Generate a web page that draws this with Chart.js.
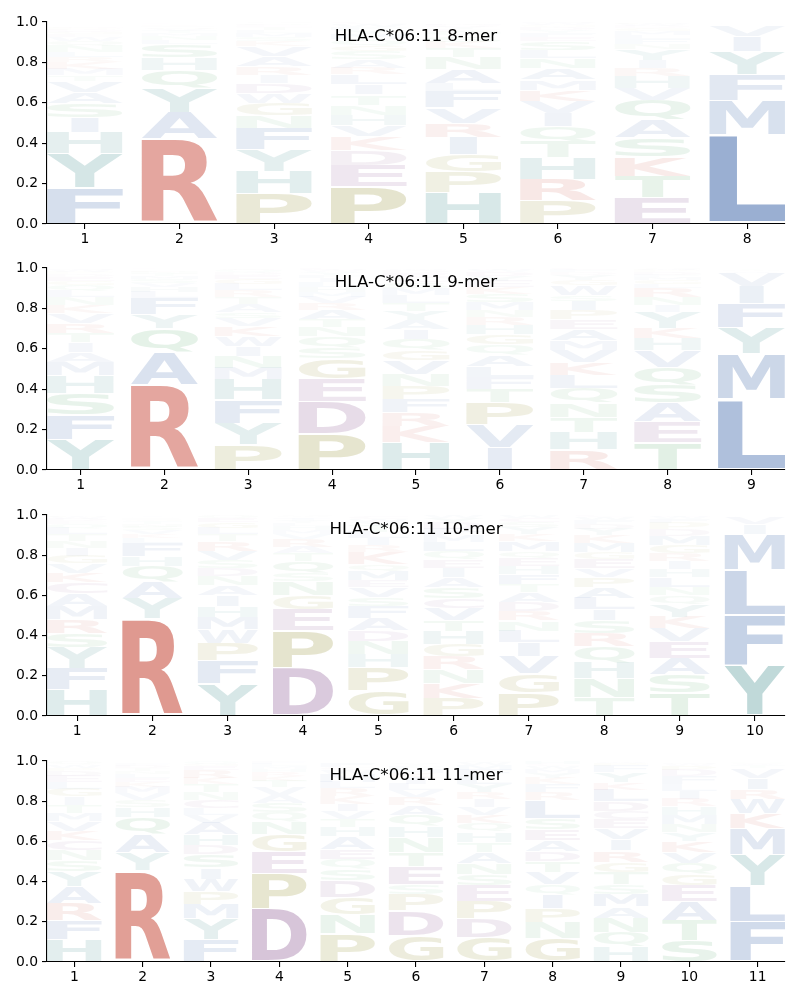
<!DOCTYPE html>
<html>
<head>
<meta charset="utf-8">
<title>HLA-C*06:11 motifs</title>
<script src="https://cdn.jsdelivr.net/npm/chart.js@4"></script>
<style>
  html, body { margin: 0; padding: 0; background: #fff; }
  .panel { position: absolute; left: 0; width: 800px; }
</style>
</head>
<body>
<div class="panel" style="top:0;height:247px"><canvas id="logo8"></canvas></div>
<div class="panel" style="top:246px;height:247px"><canvas id="logo9"></canvas></div>
<div class="panel" style="top:493px;height:246px"><canvas id="logo10"></canvas></div>
<div class="panel" style="top:739px;height:246px"><canvas id="logo11"></canvas></div>
<script>
// ── Data: one string per position, letters stacked bottom to top ─────────

const yTicks = [0, 0.2, 0.4, 0.6, 0.8, 1];

const letters8 = [
  'FYHISAVTMKRLNQWEGDPC',
  'RAYQHSLNMTVGFKEDPWIC',
  'PHYFNGWDIRAVKSMLTEQC',
  'PEDKVHNTILRASGQMYFWC',
  'HPGIRVFLANTKSQEYDMWC',
  'PRHTQIVKMANLSEFYDGWC',
  'ETKSAQVHRIYNFLMGDWPC',
  'LMFYIVAWTSKRHQ',
];
const heights8 = [
  [.178, .17, .105, .074, .069, .056, .056, .027, .03, .035, .025, .025, .03, .025, .02, .015, .012, .01, .01, .008],
  [.42, .132, .12, .09, .062, .066, .02, .02, .015, .012, .01, .008, .007, .006, .004, .003, .002, .002, .001, .001],
  [.15, .112, .107, .107, .063, .06, .05, .05, .04, .04, .05, .05, .025, .02, .02, .015, .015, .01, .01, .006],
  [.185, .107, .075, .065, .055, .053, .05, .05, .05, .05, .033, .04, .04, .03, .03, .025, .02, .015, .015, .01],
  [.155, .105, .085, .085, .07, .075, .08, .04, .07, .06, .045, .03, .03, .02, .015, .012, .01, .008, .003, .002],
  [.115, .107, .107, .08, .075, .065, .06, .055, .05, .055, .05, .04, .045, .02, .02, .015, .015, .01, .01, .005],
  [.13, .107, .095, .094, .09, .095, .06, .06, .04, .04, .055, .025, .023, .02, .02, .015, .01, .01, .007, .004],
  [.44, .17, .13, .115, .075, .055, .004, .003, .002, .002, .001, .001, .001, .001],
];

const letters9 = [
  'YFSHMAITRVKNLQGEDPWC',
  'RAQYFLHVSMTNKGE',
  'PYFHMNIWKVSATRLGEDQC',
  'PDEGSQNTARVMHLIFYWC',
  'HKRFPNVGQIAYTLMSCEDW',
  'IVPTFLAQGHRNMSKEYDWC',
  'RHTNQLKVMAEPISWGYDFC',
  'TEASQVHKYINRLGMFDPWC',
  'LMYFIVAWTSKR',
];
const heights9 = [
  [.15, .122, .105, .09, .065, .05, .05, .045, .05, .05, .04, .037, .03, .03, .02, .02, .015, .01, .01, .005],
  [.42, .163, .118, .07, .078, .03, .025, .02, .02, .015, .012, .01, .008, .004, .003],
  [.125, .107, .115, .1, .058, .058, .05, .05, .05, .04, .03, .04, .035, .03, .03, .025, .02, .015, .012, .008],
  [.178, .16, .112, .1, .055, .055, .045, .04, .045, .035, .03, .025, .025, .025, .02, .015, .015, .01, .01],
  [.135, .08, .07, .065, .065, .06, .065, .052, .055, .05, .045, .045, .04, .04, .035, .03, .025, .02, .015, .008],
  [.11, .115, .107, .07, .058, .055, .055, .05, .05, .045, .04, .035, .04, .04, .035, .03, .025, .02, .012, .008],
  [.1, .088, .075, .07, .07, .066, .062, .062, .05, .055, .046, .045, .045, .03, .05, .025, .025, .015, .012, .01],
  [.135, .103, .093, .088, .09, .083, .058, .053, .078, .033, .04, .045, .02, .02, .015, .012, .012, .01, .008, .005],
  [.35, .225, .13, .12, .085, .065, .008, .006, .004, .003, .002, .002],
];

const letters10 = [
  'HFYSRMACKVGINTLQEDWP',
  'RYAQHFLKVSNTGEDWICP',
  'YFPWMHIANDSVRTLGEQC',
  'DPEGNSQTARVMHLYIFWC',
  'GPHNDAFSVEMQKRILTYWC',
  'PKNRGHTVCSAIEQLMFDYW',
  'PGVILNRDATFHEQMKYSCW',
  'TNHQRSILAPVEGMKYDFWC',
  'TSAEVKYQNLHIRGMDPFWC',
  'YFLMIVWAST',
];
const heights10 = [
  [.13, .105, .105, .07, .07, .068, .062, .055, .045, .047, .04, .037, .035, .035, .03, .02, .015, .012, .01, .008],
  [.485, .1, .083, .078, .047, .065, .025, .02, .02, .018, .015, .012, .008, .006, .005, .003, .004, .003, .002],
  [.16, .115, .088, .066, .063, .054, .054, .05, .045, .038, .04, .045, .05, .035, .03, .03, .02, .015, .002],
  [.24, .185, .105, .07, .07, .04, .06, .04, .03, .04, .025, .02, .018, .015, .012, .012, .008, .005, .005],
  [.125, .115, .068, .066, .052, .058, .06, .045, .05, .036, .045, .033, .06, .035, .035, .03, .03, .02, .015, .012],
  [.09, .075, .066, .066, .06, .065, .055, .06, .05, .055, .048, .047, .041, .04, .045, .035, .03, .03, .025, .015],
  [.115, .095, .088, .068, .058, .05, .047, .047, .05, .04, .048, .04, .04, .035, .05, .035, .035, .025, .02, .015],
  [.09, .095, .08, .08, .066, .063, .055, .058, .055, .05, .042, .046, .033, .046, .04, .03, .025, .02, .015, .01],
  [.115, .092, .082, .08, .066, .058, .063, .043, .041, .05, .04, .04, .04, .04, .045, .035, .03, .02, .012, .008],
  [.252, .25, .226, .178, .046, .036, .004, .003, .002, .002],
];

const letters11 = [
  'HFRAYSNCKVMTIGLEDPWQ',
  'RYAQHSVMKELNTDFIW',
  'FYMPWISDHAVLCNTKREGQ',
  'DPEGNQSAVTKRHMLFIW',
  'PNGDSQEAHTVIKRLMWCF',
  'GDPSETNHQARVLIKMFYWC',
  'GDPESNATHQKVIRYLFMWC',
  'GNPIQVTDAESLRFKYMWCH',
  'HQNAMSTGRIVECDLKYFPW',
  'STAEGQVKYNMHRILFDPWC',
  'FLYMKWRIVTASNH',
];
const heights11 = [
  [.11, .097, .085, .082, .075, .055, .053, .05, .045, .05, .04, .04, .04, .04, .035, .03, .025, .015, .015, .015],
  [.455, .09, .09, .085, .05, .035, .035, .03, .025, .02, .02, .015, .015, .012, .01, .006, .002],
  [.112, .103, .072, .063, .063, .055, .066, .045, .055, .058, .041, .033, .04, .037, .04, .03, .04, .02, .012, .012],
  [.265, .175, .107, .088, .063, .047, .047, .04, .04, .03, .025, .02, .015, .012, .012, .01, .005, .002],
  [.14, .095, .087, .083, .058, .05, .05, .062, .045, .04, .04, .036, .04, .04, .03, .04, .02, .015, .02],
  [.13, .125, .08, .05, .09, .07, .075, .055, .055, .05, .04, .035, .03, .03, .025, .02, .015, .01, .005, .003],
  [.12, .095, .088, .08, .055, .055, .055, .05, .05, .042, .042, .04, .038, .035, .04, .04, .03, .025, .015, .005],
  [.115, .08, .07, .07, .05, .06, .055, .05, .055, .055, .055, .088, .04, .04, .03, .025, .02, .015, .01, .015],
  [.075, .073, .072, .055, .063, .05, .06, .05, .056, .055, .055, .045, .043, .046, .058, .036, .05, .035, .015, .008],
  [.105, .1, .098, .08, .055, .055, .054, .055, .043, .042, .045, .042, .038, .04, .035, .04, .03, .02, .01, .005],
  [.2, .18, .155, .13, .073, .073, .05, .055, .05, .012, .008, .006, .004, .002],
];

// ── Letter colours (alpha follows the letter height) ─────────

const blue = '76, 114, 176';
const green = '85, 168, 104';
const red = '204, 90, 76';
const teal = '58, 138, 138';
const olive = '146, 142, 46';
const purple = '135, 82, 143';

const letterColors = {
  A: blue, C: purple, D: purple, E: purple, F: blue, G: olive, H: teal,
  I: blue, K: red, L: blue, M: blue, N: green, P: olive, Q: green,
  R: red, S: green, T: green, V: blue, W: blue, Y: teal,
};

// ── Draws each stacked bar as a stretched letter ─────────

const logoPlugin = {
  id: 'logo',
  afterDatasetsDraw(chart) {
    const { ctx, chartArea } = chart;
    ctx.save();
    ctx.beginPath();
    ctx.rect(chartArea.left, chartArea.top, chartArea.width, chartArea.height);
    ctx.clip();
    chart.data.datasets.forEach((ds, d) => {
      chart.getDatasetMeta(d).data.forEach((bar, i) => {
        const { x, y, base, width } = bar.getProps(['x', 'y', 'base', 'width'], true);
        const letter = ds.letters[i];
        drawLetter(ctx, letter, x, y, base, width, ds.data[i].y);
      });
    });
    ctx.restore();

    // title sits inside the axes
    ctx.save();
    ctx.fillStyle = '#000';
    ctx.font = '16.67px "DejaVu Sans"';
    ctx.textAlign = 'center';
    ctx.textBaseline = 'middle';
    ctx.fillText(chart.options.logoTitle, (chartArea.left + chartArea.right) / 2,
      chart.scales.y.getPixelForValue(0.925));
    ctx.restore();
  }
};

function drawLetter(ctx, letter, x, top, bottom, width, value) {
  ctx.save();
  ctx.font = 'bold 200px "DejaVu Sans"';
  ctx.textAlign = 'left';
  ctx.textBaseline = 'alphabetic';
  const m = ctx.measureText(letter);
  const inkW = m.actualBoundingBoxLeft + m.actualBoundingBoxRight;
  const inkH = m.actualBoundingBoxAscent + m.actualBoundingBoxDescent;
  const pad = (bottom - top) * 0.025;
  // I is a plain block, keep it narrow
  const w = letter === 'I' ? width * 0.36 : width;
  ctx.translate(x - w / 2, bottom - pad);
  ctx.scale(w / inkW, (bottom - top - pad * 2) / inkH);
  ctx.fillStyle = `rgba(${letterColors[letter]}, ${Math.min(1, value * 1.28)})`;
  ctx.fillText(letter, m.actualBoundingBoxLeft, -m.actualBoundingBoxDescent);
  ctx.restore();
}

// ── One chart per peptide length ─────────

function buildLogo(canvasId, title, letters, heights) {
  const xTicks = letters.map((_, i) => i + 1);
  const levels = Math.max(...letters.map(s => s.length));
  const datasets = [];
  for (let j = 0; j < levels; j++) {
    const used = xTicks.filter((_, i) => j < letters[i].length);
    datasets.push({
      data: used.map(p => ({ x: p, y: heights[p - 1][j] })),
      letters: used.map(p => letters[p - 1][j]),
      backgroundColor: 'transparent',
      borderWidth: 0,
      barPercentage: 0.8,
      categoryPercentage: 1,
    });
  }

  const font = { family: 'DejaVu Sans', size: 13.9 };
  return new Chart(document.getElementById(canvasId), {
    type: 'bar',
    data: { datasets },
    plugins: [logoPlugin],
    options: {
      logoTitle: title,
      responsive: true,
      maintainAspectRatio: false,
      animation: false,
      layout: { padding: { top: 22, right: 15, left: 0, bottom: 0 } },
      plugins: { legend: { display: false }, tooltip: { enabled: false } },
      scales: {
        x: {
          type: 'linear',
          stacked: true,
          offset: false,
          min: 0.6,
          max: letters.length + 0.4,
          afterBuildTicks: scale => { scale.ticks = xTicks.map(value => ({ value })); },
          afterFit: scale => { scale.height = 23; },
          grid: { offset: false, drawOnChartArea: false, tickLength: 5, color: '#000', lineWidth: 1.1 },
          border: { color: '#000', width: 1.1 },
          ticks: { color: '#000', font, padding: 2, maxRotation: 0, autoSkip: false,
            callback: v => String(v) },
        },
        y: {
          stacked: true,
          min: 0,
          max: 1,
          afterBuildTicks: scale => { scale.ticks = yTicks.map(value => ({ value })); },
          afterFit: scale => { scale.width = 47; },
          grid: { drawOnChartArea: false, tickLength: 5, color: '#000', lineWidth: 1.1 },
          border: { color: '#000', width: 1.1 },
          ticks: { color: '#000', font, padding: 4, callback: v => v.toFixed(1) },
        },
      },
    },
  });
}

buildLogo('logo8', 'HLA-C*06:11 8-mer', letters8, heights8);
buildLogo('logo9', 'HLA-C*06:11 9-mer', letters9, heights9);
buildLogo('logo10', 'HLA-C*06:11 10-mer', letters10, heights10);
buildLogo('logo11', 'HLA-C*06:11 11-mer', letters11, heights11);
</script>
</body>
</html>
